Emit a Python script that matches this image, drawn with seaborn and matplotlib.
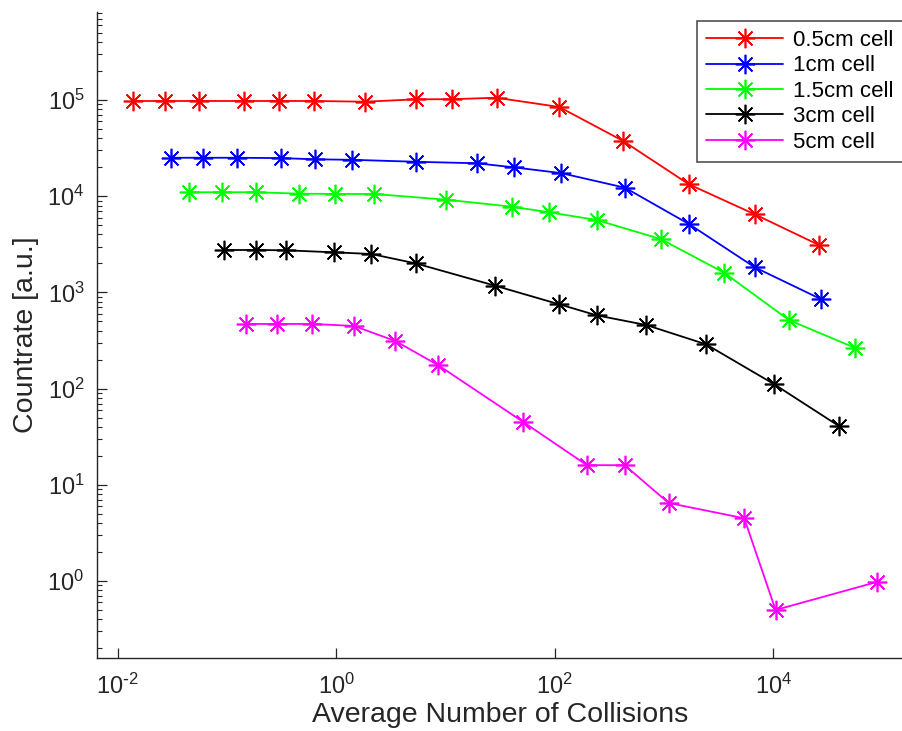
import numpy as np
import pandas as pd
import matplotlib
matplotlib.use("Agg")
import matplotlib.pyplot as plt
import seaborn as sns
from matplotlib.ticker import LogLocator, NullLocator, FuncFormatter

# ---- data ----
labels = ["0.5cm cell", "1cm cell", "1.5cm cell", "3cm cell", "5cm cell"]
colors = ["#ff0000", "#0000ff", "#00ff00", "#000000", "#ff00ff"]

red_x = [0.0139, 0.0273, 0.0558, 0.144, 0.297, 0.63, 1.85, 5.37, 11.4, 29.4, 110, 423, 1690, 6760, 26200]
red_y = [97700, 97700, 97700, 97700, 97700, 97700, 96000, 101700, 102000, 105600, 84600, 37500, 13300, 6490, 3110]

blue_x = [0.0308, 0.0607, 0.1235, 0.31, 0.635, 1.40, 5.37, 19.3, 42.4, 114, 440, 1690, 6790, 27200]
blue_y = [25100, 25100, 25100, 24900, 24200, 23900, 22800, 22000, 19950, 17400, 12250, 5140, 1820, 853]

green_x = [0.0452, 0.0901, 0.183, 0.459, 0.974, 2.23, 10.2, 40.6, 89.1, 242, 931, 3560, 13900, 55600]
green_y = [11000, 11000, 11000, 10630, 10550, 10550, 9200, 7780, 6800, 5660, 3590, 1600, 516, 266]

black_x = [0.0933, 0.183, 0.349, 0.948, 2.09, 5.37, 28.4, 110, 242, 688, 2420, 10070, 39900]
black_y = [2760, 2760, 2740, 2610, 2510, 2000, 1175, 752, 578, 458, 289, 112, 40.8]

magenta_x = [0.150, 0.287, 0.604, 1.456, 3.47, 8.60, 51.5, 197, 436, 1103, 5420, 10500, 89500]
magenta_y = [470, 470, 470, 448, 313, 175, 45, 16.0, 16.0, 6.47, 4.49, 0.50, 0.98]

series_x = [red_x, blue_x, green_x, black_x, magenta_x]
series_y = [red_y, blue_y, green_y, black_y, magenta_y]

x_ticks = [1e-2, 1e0, 1e2, 1e4]

# ---- style ----
sns.set_style("white")
plt.rcParams["font.family"] = ["Liberation Sans", "DejaVu Sans"]
plt.rcParams["mathtext.default"] = "regular"
textc = "#262626"

fig = plt.figure(figsize=(9.03, 7.31), dpi=100)
ax = fig.add_axes([0.1074, 0.0999, 0.8926, 0.8837])
ax.set_xscale("log")
ax.set_yscale("log")

star = (8, 2, 0)
for lab, col, xs, ys in zip(labels, colors, series_x, series_y):
    df = pd.DataFrame({"x": xs, "y": ys})
    sns.lineplot(data=df, x="x", y="y", ax=ax, color=col, label=lab,
                 estimator=None, sort=False, marker=star, markersize=14,
                 markeredgewidth=1.2, markeredgecolor=col, linewidth=1.3)

ax.set_xlim(10 ** -2.189, 10 ** 5.187)
ax.set_ylim(10 ** -0.80, 10 ** 5.915)


def pow_fmt(v, _pos):
    e = int(round(np.log10(v)))
    if e < 0:
        return r"$\mathdefault{10^{\text{-}%d}}$" % (-e)
    return r"$\mathdefault{10^{%d}}$" % e


ax.set_xticks(x_ticks)
ax.xaxis.set_minor_locator(NullLocator())
ax.xaxis.set_major_formatter(FuncFormatter(pow_fmt))
ax.yaxis.set_major_locator(LogLocator(base=10, numticks=20))
ax.yaxis.set_minor_locator(LogLocator(base=10, subs=np.arange(2, 10), numticks=20))
ax.yaxis.set_major_formatter(FuncFormatter(pow_fmt))

for s in ["top", "right"]:
    ax.spines[s].set_visible(False)
for s in ["left", "bottom"]:
    ax.spines[s].set_color(textc)
    ax.spines[s].set_linewidth(1.0)

ax.tick_params(axis="both", which="both", left=True, bottom=True)
ax.tick_params(axis="both", which="major", direction="in", length=7, width=0.9,
               color=textc, labelcolor=textc, labelsize=17)
ax.tick_params(axis="x", which="major", pad=11)
ax.tick_params(axis="y", which="major", pad=9)
ax.tick_params(axis="both", which="minor", direction="in", length=3.6, width=0.8,
               color=textc)

ax.set_xlabel("Average Number of Collisions", fontsize=20.5, color=textc, labelpad=2.5)
ax.set_ylabel("Countrate [a.u.]", fontsize=20.5, color=textc, labelpad=6)

leg = ax.legend(loc="upper right", bbox_to_anchor=(0.9995, 0.9713),
                bbox_transform=fig.transFigure, borderaxespad=0,
                fontsize=16, frameon=True, fancybox=False, edgecolor=textc,
                handlelength=3.47, handletextpad=0.45, labelspacing=0.2,
                borderpad=0.4)
leg.get_frame().set_linewidth(1.2)
for t in leg.get_texts():
    t.set_color("black")

fig.savefig("out.png", dpi=100)
